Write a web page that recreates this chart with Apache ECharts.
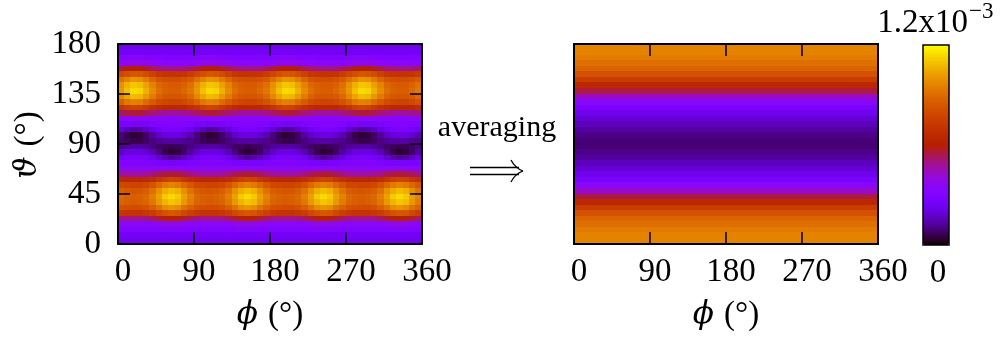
<!DOCTYPE html>
<html>
<head>
<meta charset="utf-8">
<script src="https://cdn.jsdelivr.net/npm/echarts@6/dist/echarts.min.js"></script>
<style>
html,body{margin:0;padding:0;background:#fff;}
#chart{width:1004px;height:339px;}
</style>
</head>
<body>
<div id="chart"></div>
<script>
// ---- data (values in units of 1e-5) ----
const phiTicks = [0, 90, 180, 270, 360];
const thetaTicks = [0, 45, 90, 135, 180];
const colorbarMin = 0;
const colorbarMax = 120; // 1.2x10^-3
const phiCenters = [3.75,11.25,18.75,26.25,33.75,41.25,48.75,56.25,63.75,71.25,78.75,86.25,
  93.75,101.25,108.75,116.25,123.75,131.25,138.75,146.25,153.75,161.25,168.75,176.25,
  183.75,191.25,198.75,206.25,213.75,221.25,228.75,236.25,243.75,251.25,258.75,266.25,
  273.75,281.25,288.75,296.25,303.75,311.25,318.75,326.25,333.75,341.25,348.75,356.25];
const thetaCenters = [177.5,172.5,167.5,162.5,157.5,152.5,147.5,142.5,137.5,132.5,127.5,122.5,117.5,112.5,107.5,102.5,97.5,92.5,87.5,82.5,77.5,72.5,67.5,62.5,57.5,52.5,47.5,42.5,37.5,32.5,27.5,22.5,17.5,12.5,7.5,2.5];
// rows follow thetaCenters, columns follow phiCenters
const mapValues = [
[23,23,23,23,23,23,23,23,23,23,23,23,23,23,23,23,23,23,23,23,23,23,23,23,23,23,23,23,23,23,23,23,23,23,23,23,23,23,23,23,23,23,23,23,23,23,23,23],
[25,25,25,25,25,25,25,25,25,25,25,25,25,25,25,25,25,25,25,25,25,25,25,25,25,25,25,25,25,25,25,25,25,25,25,25,25,25,25,25,25,25,25,25,25,25,25,25],
[31,32,32,32,31,30,30,29,29,29,29,30,31,32,32,32,31,30,30,29,29,29,29,30,31,32,32,32,31,30,30,29,29,29,29,30,31,32,32,32,31,30,30,29,29,29,29,30],
[36,37,38,38,37,36,35,34,34,34,34,35,36,37,38,38,37,36,35,34,34,34,34,35,36,37,38,38,37,36,35,34,34,34,34,35,36,37,38,38,37,36,35,34,34,34,34,35],
[55,58,60,59,57,54,51,50,49,49,50,52,55,58,60,59,57,54,51,50,49,49,50,52,55,58,60,59,57,54,51,50,49,49,50,52,55,58,60,59,57,54,51,50,49,49,50,52],
[78,81,84,83,80,76,72,71,70,70,71,74,78,81,84,83,80,76,72,71,70,70,71,74,78,81,84,83,80,76,72,71,70,70,71,74,78,81,84,83,80,76,72,71,70,70,71,74],
[91,96,100,99,94,88,83,81,80,80,82,85,91,96,100,99,94,88,83,81,80,80,82,85,91,96,100,99,94,88,83,81,80,80,82,85,91,96,100,99,94,88,83,81,80,80,82,85],
[99,106,110,109,103,96,89,86,85,85,87,91,99,106,110,109,103,96,89,86,85,85,87,91,99,106,110,109,103,96,89,86,85,85,87,91,99,106,110,109,103,96,89,86,85,85,87,91],
[101,109,114,113,106,98,91,87,86,86,89,93,101,109,114,113,106,98,91,87,86,86,89,93,101,109,114,113,106,98,91,87,86,86,89,93,101,109,114,113,106,98,91,87,86,86,89,93],
[97,104,108,107,101,94,87,84,83,83,85,89,97,104,108,107,101,94,87,84,83,83,85,89,97,104,108,107,101,94,87,84,83,83,85,89,97,104,108,107,101,94,87,84,83,83,85,89],
[87,93,96,95,90,85,80,78,77,77,79,82,87,93,96,95,90,85,80,78,77,77,79,82,87,93,96,95,90,85,80,78,77,77,79,82,87,93,96,95,90,85,80,78,77,77,79,82],
[71,75,77,76,73,69,66,65,64,64,65,67,71,75,77,76,73,69,66,65,64,64,65,67,71,75,77,76,73,69,66,65,64,64,65,67,71,75,77,76,73,69,66,65,64,64,65,67],
[52,54,56,56,53,51,49,47,47,47,48,49,52,54,56,56,53,51,49,47,47,47,48,49,52,54,56,56,53,51,49,47,47,47,48,49,52,54,56,56,53,51,49,47,47,47,48,49],
[35,36,36,36,36,35,35,34,34,34,34,35,35,36,36,36,36,35,35,34,34,34,34,35,35,36,36,36,36,35,35,34,34,34,34,35,35,36,36,36,36,35,35,34,34,34,34,35],
[28,27,26,26,27,29,30,31,31,31,31,30,28,27,26,26,27,29,30,31,31,31,31,30,28,27,26,26,27,29,30,31,31,31,31,30,28,27,26,26,27,29,30,31,31,31,31,30],
[19,15,13,14,17,21,25,27,28,28,26,23,19,15,13,14,17,21,25,27,28,28,26,23,19,15,13,14,17,21,25,27,28,28,26,23,19,15,13,14,17,21,25,27,28,28,26,23],
[10,6,4,5,8,13,17,20,21,21,18,15,10,6,4,5,8,13,17,20,21,21,18,15,10,6,4,5,8,13,17,20,21,21,18,15,10,6,4,5,8,13,17,20,21,21,18,15],
[9,7,6,6,8,10,12,13,13,13,12,11,9,7,6,6,8,10,12,13,13,13,12,11,9,7,6,6,8,10,12,13,13,13,12,11,9,7,6,6,8,10,12,13,13,13,12,11],
[12,13,13,13,12,10,8,7,6,7,8,10,12,13,13,13,12,10,8,7,6,7,8,10,12,13,13,13,12,10,8,7,6,7,8,10,12,13,13,13,12,10,8,7,6,7,8,10],
[17,20,21,21,19,15,10,6,4,5,8,13,17,20,21,21,19,15,10,6,4,5,8,13,17,20,21,21,19,15,10,6,4,5,8,13,17,20,21,21,19,15,10,6,4,5,8,13],
[25,27,28,28,26,23,19,15,13,14,17,21,25,27,28,28,26,23,19,15,13,14,17,21,25,27,28,28,26,23,19,15,13,14,17,21,25,27,28,28,26,23,19,15,13,14,17,21],
[30,31,31,31,30,29,28,27,26,27,28,29,30,31,31,31,30,29,28,27,26,27,28,29,30,31,31,31,30,29,28,27,26,27,28,29,30,31,31,31,30,29,28,27,26,27,28,29],
[35,35,35,35,35,35,35,36,36,36,35,35,35,35,35,35,35,35,35,36,36,36,35,35,35,35,35,35,35,35,35,36,36,36,35,35,35,35,35,35,35,35,35,36,36,36,35,35],
[48,47,47,47,48,50,53,55,56,55,53,50,48,47,47,47,48,50,53,55,56,55,53,50,48,47,47,47,48,50,53,55,56,55,53,50,48,47,47,47,48,50,53,55,56,55,53,50],
[66,64,64,64,66,68,72,75,77,76,72,69,66,64,64,64,66,68,72,75,77,76,72,69,66,64,64,64,66,68,72,75,77,76,72,69,66,64,64,64,66,68,72,75,77,76,72,69],
[79,78,77,77,79,83,89,94,96,94,89,84,79,78,77,77,79,83,89,94,96,94,89,84,79,78,77,77,79,83,89,94,96,94,89,84,79,78,77,77,79,83,89,94,96,94,89,84],
[86,84,83,84,86,91,99,105,108,106,99,92,86,84,83,84,86,91,99,105,108,106,99,92,86,84,83,84,86,91,99,105,108,106,99,92,86,84,83,84,86,91,99,105,108,106,99,92],
[89,87,86,87,89,95,103,111,114,111,103,96,89,87,86,87,89,95,103,111,114,111,103,96,89,87,86,87,89,95,103,111,114,111,103,96,89,87,86,87,89,95,103,111,114,111,103,96],
[88,86,85,86,88,93,101,107,110,108,101,94,88,86,85,86,88,93,101,107,110,108,101,94,88,86,85,86,88,93,101,107,110,108,101,94,88,86,85,86,88,93,101,107,110,108,101,94],
[82,81,80,80,82,86,92,98,100,98,92,87,82,81,80,80,82,86,92,98,100,98,92,87,82,81,80,80,82,86,92,98,100,98,92,87,82,81,80,80,82,86,92,98,100,98,92,87],
[72,70,70,70,72,74,79,82,84,83,79,75,72,70,70,70,72,74,79,82,84,83,79,75,72,70,70,70,72,74,79,82,84,83,79,75,72,70,70,70,72,74,79,82,84,83,79,75],
[50,49,49,49,50,53,56,59,60,59,56,53,50,49,49,49,50,53,56,59,60,59,56,53,50,49,49,49,50,53,56,59,60,59,56,53,50,49,49,49,50,53,56,59,60,59,56,53],
[34,34,34,34,34,35,36,38,38,38,36,35,34,34,34,34,34,35,36,38,38,38,36,35,34,34,34,34,34,35,36,38,38,38,36,35,34,34,34,34,34,35,36,38,38,38,36,35],
[30,30,30,30,30,30,31,32,32,32,31,30,30,30,30,30,30,30,31,32,32,32,31,30,30,30,30,30,30,30,31,32,32,32,31,30,30,30,30,30,30,30,31,32,32,32,31,30],
[25,25,25,25,25,25,25,25,25,25,25,25,25,25,25,25,25,25,25,25,25,25,25,25,25,25,25,25,25,25,25,25,25,25,25,25,25,25,25,25,25,25,25,25,25,25,25,25],
[23,23,23,23,23,23,23,23,23,23,23,23,23,23,23,23,23,23,23,23,23,23,23,23,23,23,23,23,23,23,23,23,23,23,23,23,23,23,23,23,23,23,23,23,23,23,23,23]
];
// phi-averaged profile, one value per thetaCenters entry
const averagedValues = [96,96,94,91,88,82,74,65,55,43,34,28,23,19,16,13,11,9,9,11,13,16,19,23,28,34,43,55,65,74,82,88,91,94,96,96];

// ---- build series data from the arrays ----
const leftData = [];
thetaCenters.forEach((th, i) => {
  phiCenters.forEach((ph, j) => { leftData.push([ph, th, mapValues[i][j]]); });
});
const phiMid = (phiTicks[0] + phiTicks[phiTicks.length - 1]) / 2;
const rightData = thetaCenters.map((th, i) => [phiMid, th, averagedValues[i]]);
const dPhi = phiCenters[1] - phiCenters[0];
const dTheta = thetaCenters[0] - thetaCenters[1];
const phiSpan = phiTicks[phiTicks.length - 1] - phiTicks[0];

// ---- gnuplot default palette (rgbformulae 7,5,15) ----
function pal(x) {
  const r = Math.sqrt(x), g = x * x * x, b = Math.max(0, Math.sin(2 * Math.PI * x));
  const h = v => Math.round(Math.min(1, Math.max(0, v)) * 255).toString(16).padStart(2, '0');
  return '#' + h(r) + h(g) + h(b);
}
const paletteStops = [];
for (let i = 0; i <= 100; i++) paletteStops.push(pal(i / 100));

function cellRect(api, halfW, halfH) {
  const ph = api.value(0), th = api.value(1);
  const p0 = api.coord([ph - halfW, th + halfH]);
  const p1 = api.coord([ph + halfW, th - halfH]);
  const x0 = Math.floor(p0[0]), y0 = Math.floor(p0[1]);
  const x1 = Math.ceil(p1[0]), y1 = Math.ceil(p1[1]);
  return { type: 'rect', shape: { x: x0, y: y0, width: x1 - x0, height: y1 - y0 },
           style: { fill: api.visual('color') } };
}

const SERIF = "'Liberation Serif', 'DejaVu Serif', serif";
const black = '#000';
const lineSt = { color: black, width: 2 };
const tickSt = { color: black, width: 1.5 };

function xAx(grid, pos, labels) {
  return { gridIndex: grid, type: 'value', min: phiTicks[0], max: phiTicks[phiTicks.length - 1], interval: 90,
    position: pos, z: 10,
    axisLine: { show: true, onZero: false, lineStyle: lineSt },
    axisTick: { show: true, inside: true, length: 12, lineStyle: tickSt },
    axisLabel: { show: labels, fontFamily: SERIF, fontSize: 33, color: black, margin: 12, padding: [0, 0, 0, 10] },
    splitLine: { show: false } };
}
function yAx(grid, pos, labels, ticks) {
  return { gridIndex: grid, type: 'value', min: thetaTicks[0], max: thetaTicks[thetaTicks.length - 1], interval: 45,
    position: pos, z: 10,
    axisLine: { show: true, onZero: false, lineStyle: lineSt },
    axisTick: { show: ticks, inside: true, length: 12, lineStyle: tickSt },
    axisLabel: { show: labels, fontFamily: SERIF, fontSize: 33, color: black, margin: 17 },
    splitLine: { show: false } };
}

const richLabel = {
  s: { fontFamily: "'DejaVu Serif'", fontStyle: 'italic', fontSize: 31, fill: black },
  g: { fontFamily: SERIF, fontSize: 33, fill: black, width: 10 },
  p: { fontFamily: SERIF, fontSize: 33, fill: black }
};

const chart = echarts.init(document.getElementById('chart'), null, { renderer: 'canvas' });
chart.setOption({
  animation: false,
  backgroundColor: '#fff',
  grid: [
    { left: 118, top: 44, width: 304, height: 200 },
    { left: 574, top: 44, width: 304, height: 200 }
  ],
  xAxis: [xAx(0, 'bottom', true), xAx(0, 'top', false), xAx(1, 'bottom', true), xAx(1, 'top', false)],
  yAxis: [yAx(0, 'left', true, true), yAx(0, 'right', false, true), yAx(1, 'left', false, false), yAx(1, 'right', false, false)],
  visualMap: {
    type: 'continuous', min: colorbarMin, max: colorbarMax, dimension: 2, seriesIndex: [0, 1],
    calculable: false, orient: 'vertical', left: 923, top: 45, itemWidth: 26, itemHeight: 200,
    padding: 0, showLabel: false,
    inRange: { color: paletteStops }
  },
  series: [
    { type: 'custom', xAxisIndex: 0, yAxisIndex: 0, data: leftData, clip: true, z: 2,
      encode: { x: 0, y: 1 },
      renderItem: (params, api) => cellRect(api, dPhi / 2, dTheta / 2) },
    { type: 'custom', xAxisIndex: 2, yAxisIndex: 2, data: rightData, clip: true, z: 2,
      encode: { x: 0, y: 1 },
      renderItem: (params, api) => cellRect(api, phiSpan / 2, dTheta / 2) }
  ],
  graphic: [
    { type: 'rect', z: 100, shape: { x: 923, y: 45, width: 26, height: 200 },
      style: { fill: 'none', stroke: black, lineWidth: 1.5 } },
    { type: 'text', z: 100, x: 28, y: 145, rotation: Math.PI / 2,
      style: { text: '{s|ϑ}{g| }{p|(°)}', align: 'center', verticalAlign: 'middle', rich: richLabel } },
    { type: 'text', z: 100, x: 270, y: 315,
      style: { text: '{s|ϕ}{g| }{p|(°)}', align: 'center', verticalAlign: 'middle', rich: richLabel } },
    { type: 'text', z: 100, x: 726, y: 315,
      style: { text: '{s|ϕ}{g| }{p|(°)}', align: 'center', verticalAlign: 'middle', rich: richLabel } },
    { type: 'text', z: 100, x: 497, y: 128,
      style: { text: 'averaging', align: 'center', verticalAlign: 'middle', fontFamily: SERIF, fontSize: 30, fill: black } },
    { type: 'line', z: 100, shape: { x1: 470, y1: 167.5, x2: 519, y2: 167.5 }, style: { stroke: black, lineWidth: 1.3 } },
    { type: 'line', z: 100, shape: { x1: 470, y1: 174.5, x2: 519, y2: 174.5 }, style: { stroke: black, lineWidth: 1.3 } },
    { type: 'bezierCurve', z: 100, shape: { x1: 511, y1: 160, cpx1: 515, cpy1: 168, x2: 523, y2: 171 },
      style: { fill: 'none', stroke: black, lineWidth: 1.3 } },
    { type: 'bezierCurve', z: 100, shape: { x1: 523, y1: 171, cpx1: 515, cpy1: 174, x2: 511, y2: 182 },
      style: { fill: 'none', stroke: black, lineWidth: 1.3 } },
    { type: 'text', z: 100, x: 968, y: 23,
      style: { text: '1.2x10', align: 'right', verticalAlign: 'middle', fontFamily: SERIF, fontSize: 33, fill: black } },
    { type: 'text', z: 100, x: 969, y: 12,
      style: { text: '−3', align: 'left', verticalAlign: 'middle', fontFamily: SERIF, fontSize: 23, fill: black } },
    { type: 'text', z: 100, x: 938, y: 273,
      style: { text: '0', align: 'center', verticalAlign: 'middle', fontFamily: SERIF, fontSize: 33, fill: black } }
  ]
});
</script>
</body>
</html>
